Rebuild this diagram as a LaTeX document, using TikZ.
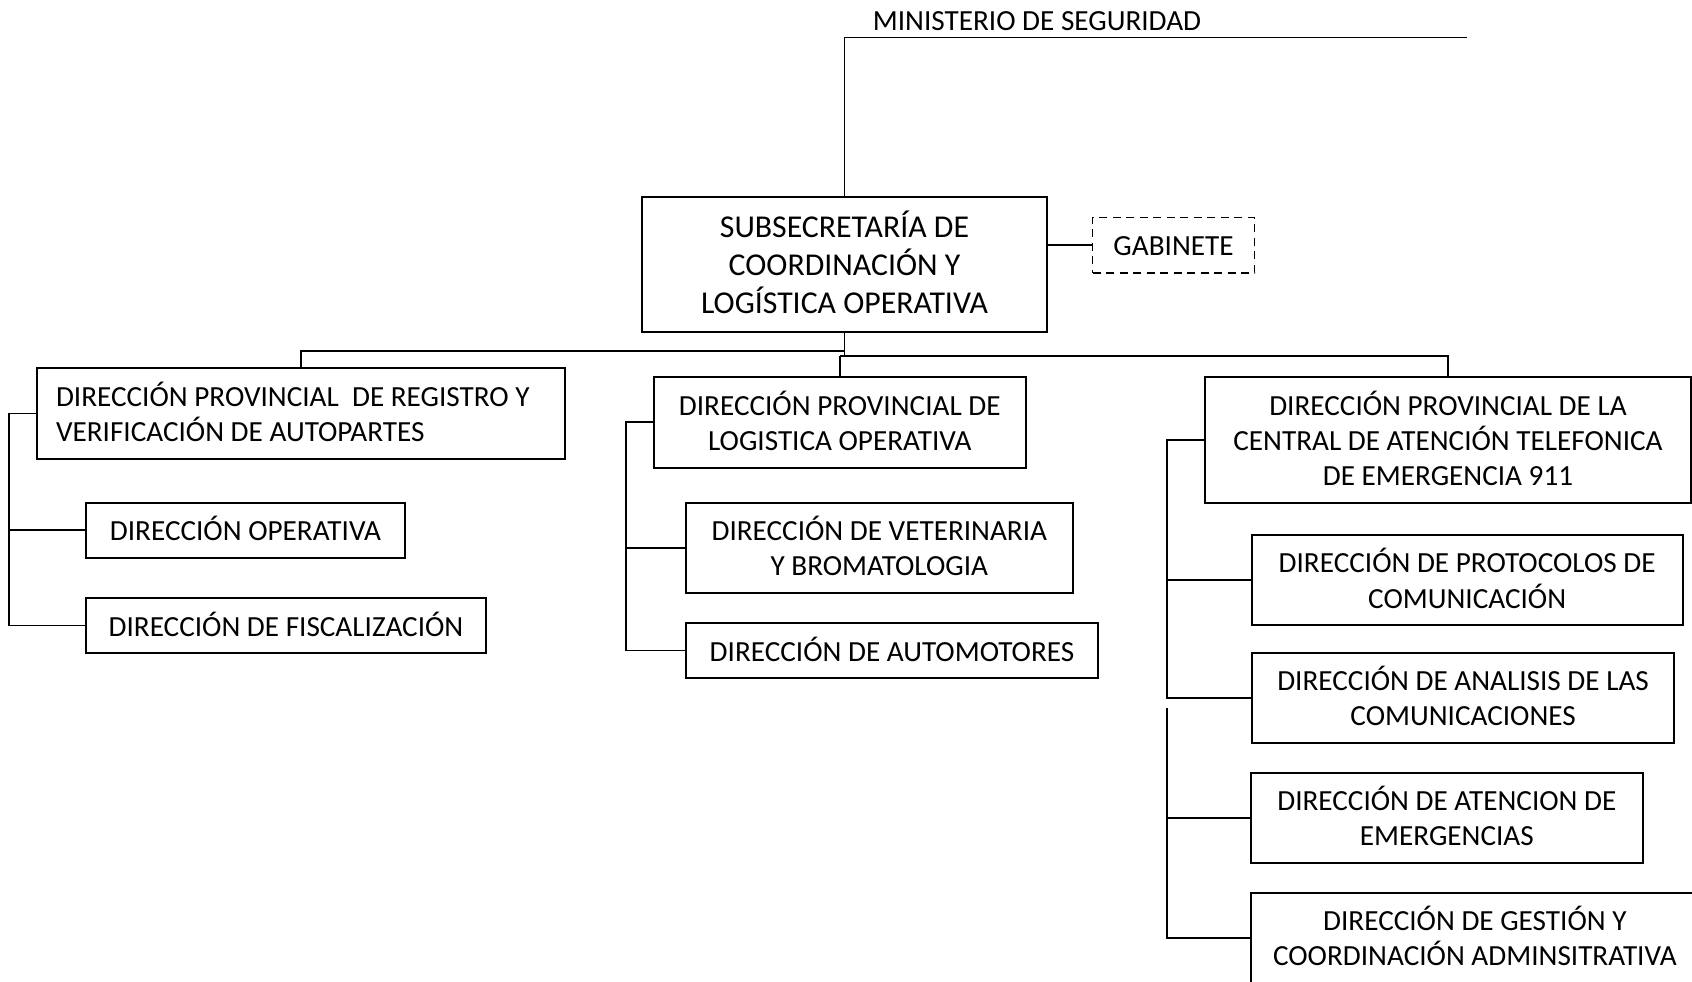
\documentclass[tikz,border=0pt]{standalone}
\usepackage{fontspec}
\setmainfont{Carlito}
\usetikzlibrary{calc}
\begin{document}
\begin{tikzpicture}[x=1pt,y=-1pt,
  unit/.style={draw, line width=2pt, inner sep=0pt, align=center,
    font=\fontsize{29.2}{35.3}\selectfont,
    execute at begin node={\rule{0pt}{24pt}},
    execute at end node={\rule[-3.2pt]{0pt}{3.2pt}}},
  headbox/.style={unit, font=\fontsize{31.8}{38.1}\selectfont,
    execute at begin node={\rule{0pt}{26.5pt}},
    execute at end node={\rule[-4pt]{0pt}{4pt}}},
  staffbox/.style={unit, line width=1.6pt, dash pattern=on 8pt off 5.5pt},
  link/.style={line width=1.7pt}]
\useasboundingbox (0,0) rectangle (1692,982);
\clip (0,0) rectangle (1692,982);

% ministry heading
\node[font=\fontsize{29.2}{35.3}\selectfont] (min) at (1037,21) {MINISTERIO DE SEGURIDAD};
\coordinate (topL) at (844.5,37.5);
\coordinate (topR) at (1466.6,37.5);

% undersecretariat and staff office
\node[headbox, minimum width=405pt, minimum height=135.3pt] (sub) at (844.5,264.35)
  {SUBSECRETARÍA DE\\COORDINACIÓN Y\\LOGÍSTICA OPERATIVA};
\node[staffbox, minimum width=162pt, minimum height=55.4pt] (gab) at (1173.5,245) {GABINETE};

% provincial directorates
\node[unit, align=flush left, text width=489.7pt, inner xsep=19.3pt, minimum height=91.3pt] (b1) at (300.85,413.35)
  {DIRECCIÓN PROVINCIAL\ \ DE REGISTRO Y\\VERIFICACIÓN DE AUTOPARTES};
\node[unit, minimum width=372.5pt, minimum height=91pt] (b2) at (839.75,422.2)
  {DIRECCIÓN PROVINCIAL DE\\LOGISTICA OPERATIVA};
\node[unit, minimum width=485.2pt, minimum height=126.6pt] (b3) at (1448,440)
  {DIRECCIÓN PROVINCIAL DE LA\\CENTRAL DE ATENCIÓN TELEFONICA\\DE EMERGENCIA 911};

% directorates under b1
\node[unit, minimum width=318.4pt, minimum height=55pt] (ope) at (245.5,530.2) {DIRECCIÓN OPERATIVA};
\node[unit, minimum width=399.4pt, minimum height=55.6pt] (fis) at (286,625.5) {DIRECCIÓN DE FISCALIZACIÓN};

% directorates under b2
\node[unit, minimum width=386.7pt, minimum height=90pt] (vet) at (879.35,547.7)
  {DIRECCIÓN DE VETERINARIA\\Y BROMATOLOGIA};
\node[unit, minimum width=412pt, minimum height=55.6pt] (aut) at (892,650.5) {DIRECCIÓN DE AUTOMOTORES};

% directorates under b3
\node[unit, minimum width=430.7pt, minimum height=90pt] (pro) at (1467.15,580)
  {DIRECCIÓN DE PROTOCOLOS DE\\COMUNICACIÓN};
\node[unit, minimum width=422.6pt, minimum height=90pt] (ana) at (1463.1,697.7)
  {DIRECCIÓN DE ANALISIS DE LAS\\COMUNICACIONES};
\node[unit, minimum width=392.3pt, minimum height=90pt] (ate) at (1446.85,817.7)
  {DIRECCIÓN DE ATENCION DE\\EMERGENCIAS};
\node[unit, minimum width=448.3pt, minimum height=90pt] (ges) at (1474.85,937.7)
  {DIRECCIÓN DE GESTIÓN Y\\COORDINACIÓN ADMINSITRATIVA};

% connectors
\draw[link] (topL) -- (topR);
\draw[link] (topL) -- (sub.north);
\draw[link] (gab.west) -- (gab.west -| sub.east);

\coordinate (busL) at ($(sub.south)+(0,17.7)$);
\coordinate (busR) at ($(sub.south)+(0,23)$);
\draw[link] (sub.south) -- (busR);
\draw[link] (busL) -| (b1.north);
\draw[link] (b2.north |- busR) -| (b3.north);
\draw[link] (b2.north |- busR) -- (b2.north);

\coordinate (s1) at ($(b1.west)+(-26.7,0)$);
\draw[link] (b1.west) -- (s1) |- (fis.west);
\draw[link] (ope.west) -- (ope.west -| s1);

\coordinate (s2) at ($(b2.west)+(-26.5,0)$);
\draw[link] (b2.west) -- (s2) |- (aut.west);
\draw[link] (vet.west) -- (vet.west -| s2);

\coordinate (s3) at ($(b3.west)+(-37.2,0)$);
\draw[link] (b3.west) -- (s3) |- (ana.west);
\draw[link] (pro.west) -- (pro.west -| s3);
\coordinate (s3b) at (s3 |- 0,708.3);
\draw[link] (s3b) |- (ges.west);
\draw[link] (ate.west) -- (ate.west -| s3b);
\end{tikzpicture}
\end{document}
